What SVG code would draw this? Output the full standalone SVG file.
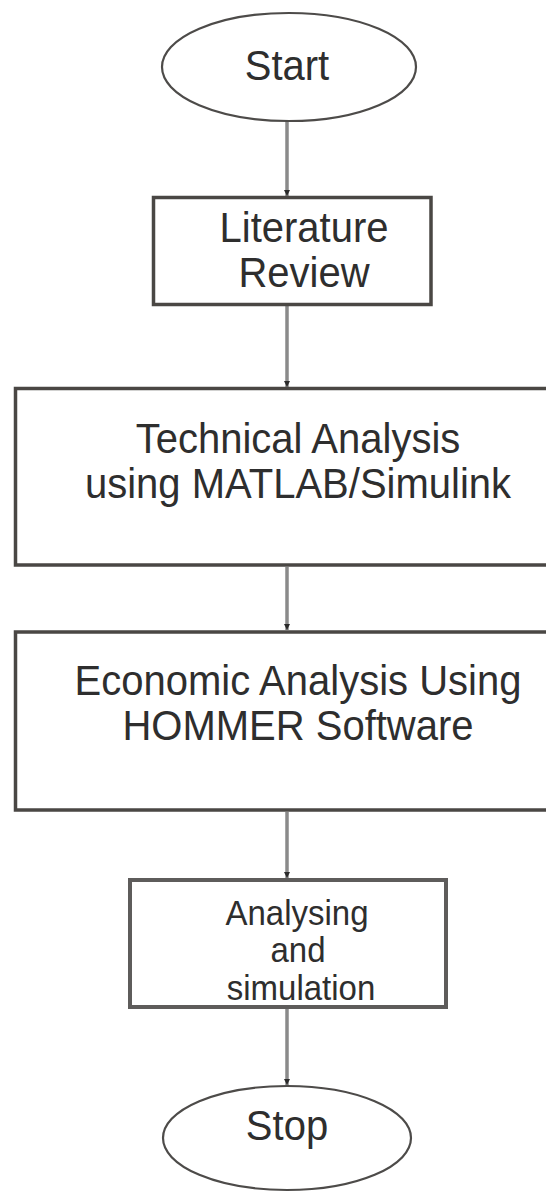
<svg xmlns="http://www.w3.org/2000/svg" width="546" height="1193" viewBox="0 0 546 1193">
<defs>
<style>
.bg{fill:#ffffff}
.term{fill:#ffffff;stroke:#4d4b49;stroke-width:2.2}
.box{fill:#ffffff;stroke:#4a4744;stroke-width:3.5}
.box2{fill:#ffffff;stroke:#5e5c5b;stroke-width:4}
.conn{stroke:#8a8a8a;stroke-width:3.5;fill:none}
.t{font-family:"Liberation Sans",Arial,sans-serif;font-size:40px;fill:#2e2e2e;text-anchor:middle}
.ts{font-family:"Liberation Sans",Arial,sans-serif;font-size:33px;fill:#2e2e2e;text-anchor:middle}
</style>
<marker id="tip" viewBox="0 0 6 6" refX="6" refY="3" markerWidth="6" markerHeight="6" markerUnits="userSpaceOnUse" orient="auto">
<path d="M0,0 L6,3 L0,6 Z" fill="#2b2b2b"/>
</marker>
</defs>
<rect class="bg" x="0" y="0" width="546" height="1193"/>
<g id="connectors">
<line class="conn" x1="287" y1="121" x2="287" y2="196" marker-end="url(#tip)"/>
<line class="conn" x1="287" y1="306" x2="287" y2="387" marker-end="url(#tip)"/>
<line class="conn" x1="287" y1="567" x2="287" y2="630" marker-end="url(#tip)"/>
<line class="conn" x1="287" y1="812" x2="287" y2="878" marker-end="url(#tip)"/>
<line class="conn" x1="287" y1="1009" x2="287" y2="1085" marker-end="url(#tip)"/>
</g>
<g id="start">
<ellipse class="term" cx="289" cy="67" rx="127" ry="54"/>
<text class="t" transform="translate(287,80) scale(1,1.08)">Start</text>
</g>
<g id="literature">
<rect class="box" x="153.5" y="197.5" width="277.5" height="107"/>
<text class="t" transform="translate(304,242) scale(1,1.08)">Literature</text>
<text class="t" transform="translate(304,287) scale(1,1.08)">Review</text>
</g>
<g id="technical">
<rect class="box" x="15.5" y="388.5" width="560" height="176.5"/>
<text class="t" transform="translate(298,453) scale(1,1.08)">Technical Analysis</text>
<text class="t" transform="translate(298,498) scale(1,1.08)">using MATLAB/Simulink</text>
</g>
<g id="economic">
<rect class="box" x="15.5" y="632" width="560" height="178"/>
<text class="t" transform="translate(298,695) scale(1,1.08)">Economic Analysis Using</text>
<text class="t" transform="translate(298,740) scale(1,1.08)">HOMMER Software</text>
</g>
<g id="analysing">
<rect class="box2" x="130" y="880" width="316" height="127"/>
<text class="ts" transform="translate(297,925) scale(1,1.05)">Analysing</text>
<text class="ts" transform="translate(298,962) scale(1,1.05)">and</text>
<text class="ts" transform="translate(301,1000) scale(1,1.05)">simulation</text>
</g>
<g id="stop">
<ellipse class="term" cx="287" cy="1138" rx="124" ry="52"/>
<text class="t" transform="translate(287,1140) scale(1,1.08)">Stop</text>
</g>
</svg>
